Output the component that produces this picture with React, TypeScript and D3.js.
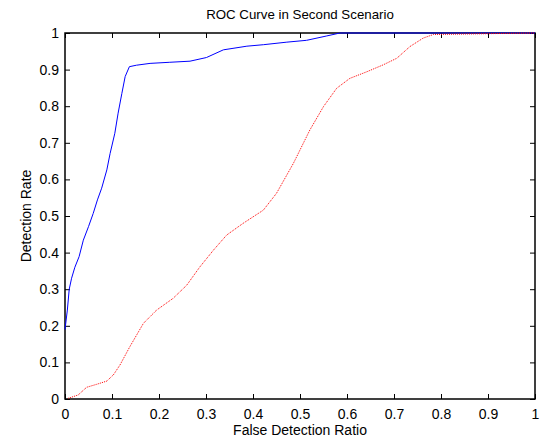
import React, { useEffect, useRef } from 'react'
import * as d3 from 'd3'

// blue curve (proposed)
const blueFdr = [0, 0.005, 0.009, 0.014, 0.021, 0.03, 0.039, 0.05, 0.06, 0.069, 0.078, 0.089, 0.096, 0.106, 0.113, 0.121, 0.128, 0.137, 0.152, 0.181, 0.223, 0.266, 0.301, 0.337, 0.387, 0.422, 0.472, 0.514, 0.557, 0.585, 1]
const blueRate = [0.19, 0.243, 0.3, 0.33, 0.36, 0.389, 0.434, 0.471, 0.507, 0.544, 0.576, 0.626, 0.671, 0.726, 0.781, 0.835, 0.881, 0.908, 0.912, 0.917, 0.92, 0.923, 0.933, 0.954, 0.964, 0.968, 0.975, 0.98, 0.992, 1, 1]

// red curve (dotted)
const redFdr = [0.007, 0.028, 0.046, 0.067, 0.089, 0.103, 0.117, 0.138, 0.167, 0.195, 0.23, 0.259, 0.287, 0.316, 0.344, 0.379, 0.422, 0.45, 0.486, 0.521, 0.55, 0.578, 0.606, 0.642, 0.677, 0.706, 0.734, 0.762, 0.784, 1]
const redRate = [0.002, 0.011, 0.032, 0.04, 0.049, 0.066, 0.093, 0.143, 0.207, 0.243, 0.275, 0.311, 0.361, 0.407, 0.448, 0.48, 0.516, 0.562, 0.644, 0.735, 0.799, 0.849, 0.876, 0.894, 0.913, 0.931, 0.963, 0.986, 0.996, 1]

const xTicks = [0, 0.1, 0.2, 0.3, 0.4, 0.5, 0.6, 0.7, 0.8, 0.9, 1]
const yTicks = [0, 0.1, 0.2, 0.3, 0.4, 0.5, 0.6, 0.7, 0.8, 0.9, 1]

const width = 545
const height = 439
const margin = { top: 33, right: 10, bottom: 40, left: 65 }
const font = 'Arial, "Liberation Sans", Helvetica, sans-serif'

export default function App() {
    const ref = useRef<SVGSVGElement>(null)

    useEffect(() => {
        const innerWidth = width - margin.left - margin.right
        const innerHeight = height - margin.top - margin.bottom

        const svg = d3.select(ref.current)
        svg.selectAll('*').remove()

        const x = d3.scaleLinear().domain([0, 1]).range([0, innerWidth])
        const y = d3.scaleLinear().domain([0, 1]).range([innerHeight, 0])

        svg.append('text')
            .attr('x', margin.left + innerWidth / 2)
            .attr('y', 19)
            .attr('text-anchor', 'middle')
            .style('font-family', font)
            .style('font-size', '13.3px')
            .text('ROC Curve in Second Scenario')

        const g = svg.append('g')
            .attr('transform', `translate(${margin.left},${margin.top})`)

        const tickFmt = (d: any) => String(+d)
        const tickLen = 5

        const styleAxis = (sel: any) => {
            sel.select('.domain').remove()
            sel.selectAll('text').style('font-family', font).style('font-size', '14px').attr('fill', '#000')
            sel.selectAll('line').attr('stroke', '#000')
        }

        g.append('g')
            .attr('transform', `translate(0,${innerHeight})`)
            .call(d3.axisBottom(x).tickValues(xTicks).tickFormat(tickFmt).tickSizeInner(-tickLen).tickSizeOuter(0).tickPadding(10))
            .call(styleAxis)

        g.append('g')
            .call(d3.axisLeft(y).tickValues(yTicks).tickFormat(tickFmt).tickSizeInner(-tickLen).tickSizeOuter(0).tickPadding(6))
            .call(styleAxis)

        g.append('g')
            .call(d3.axisTop(x).tickValues(xTicks).tickFormat(() => '').tickSizeInner(-tickLen).tickSizeOuter(0))
            .call(styleAxis)

        g.append('g')
            .attr('transform', `translate(${innerWidth},0)`)
            .call(d3.axisRight(y).tickValues(yTicks).tickFormat(() => '').tickSizeInner(-tickLen).tickSizeOuter(0))
            .call(styleAxis)

        g.append('rect')
            .attr('width', innerWidth)
            .attr('height', innerHeight)
            .attr('fill', 'none')
            .attr('stroke', '#000')
            .attr('stroke-width', 1.5)

        const line = d3.line<[number, number]>()
            .x(d => x(d[0]))
            .y(d => y(d[1]))

        const blue = blueFdr.map((v, i) => [v, blueRate[i]] as [number, number])
        const red = redFdr.map((v, i) => [v, redRate[i]] as [number, number])

        g.append('path')
            .datum(blue)
            .attr('d', line)
            .attr('fill', 'none')
            .attr('stroke', '#0000ff')
            .attr('stroke-width', 1)

        g.append('path')
            .datum(red)
            .attr('d', line)
            .attr('fill', 'none')
            .attr('stroke', '#ff0000')
            .attr('stroke-width', 1)
            .attr('stroke-dasharray', '1,1')

        svg.append('text')
            .attr('x', margin.left + innerWidth / 2)
            .attr('y', 435)
            .attr('text-anchor', 'middle')
            .style('font-family', font)
            .style('font-size', '14px')
            .text('False Detection Ratio')

        svg.append('text')
            .attr('transform', `translate(31,${margin.top + innerHeight / 2}) rotate(-90)`)
            .attr('text-anchor', 'middle')
            .style('font-family', font)
            .style('font-size', '14px')
            .text('Detection Rate')
    }, [])

    return (
        <svg ref={ref} width={width} height={height} style={{ position: 'absolute', left: 0, top: 0, background: '#fff' }}></svg>
    )
}
